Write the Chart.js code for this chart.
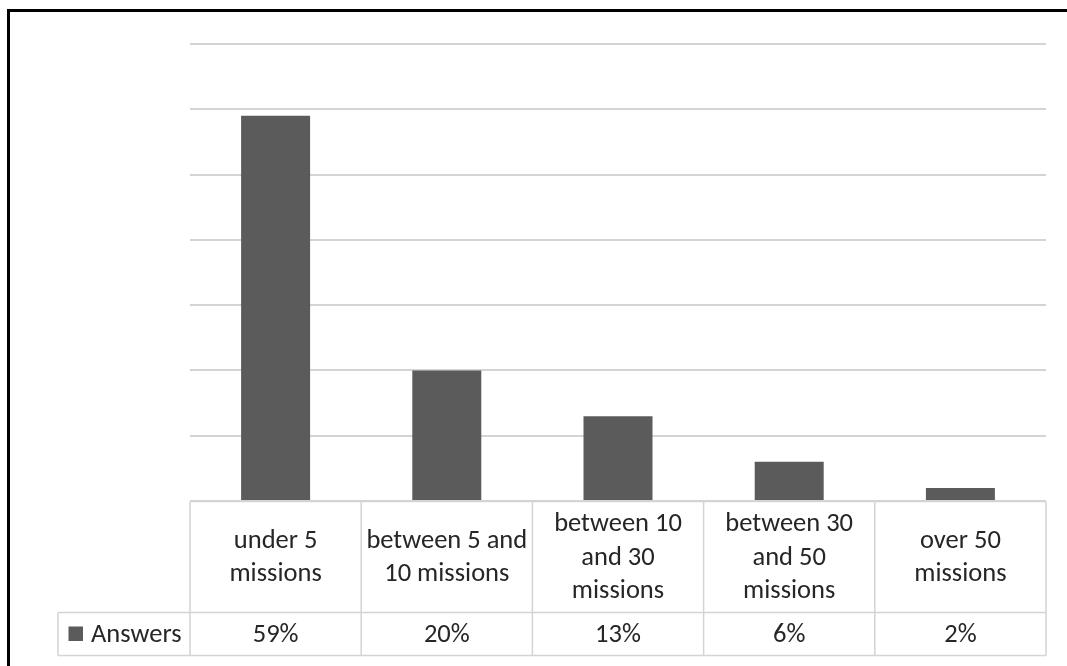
<!DOCTYPE html>
<html>
<head>
<meta charset="utf-8">
<script src="https://cdn.jsdelivr.net/npm/chart.js@4"></script>
<style>
  html, body { margin: 0; padding: 0; background: #fff; }
  #wrap { position: relative; width: 1067px; height: 666px; overflow: hidden; }
  #frame { position: absolute; left: 7px; top: 9px; right: -10px; bottom: -10px;
           border-left: 3px solid #000; border-top: 3px solid #000; }
  canvas { position: absolute; left: 0; top: 0; }
</style>
</head>
<body>
<div id="wrap">
  <div id="frame"></div>
  <canvas id="c" width="1067" height="666"></canvas>
</div>
<script>
// Mission-count buckets (each label split into its table lines)
const categories = [
  ["under 5", "missions"],
  ["between 5 and", "10 missions"],
  ["between 10", "and 30", "missions"],
  ["between 30", "and 50", "missions"],
  ["over 50", "missions"]
];
const seriesName = "Answers";
const answers = [59, 20, 13, 6, 2];   // percent of answers
const yMax = 70;
const yStep = 10;

const FONT = "Carlito, Calibri, Lato, sans-serif";
const TEXT = "#262626";
const LINE = "#d4d4d4";
const BAR = "#5b5b5b";

// Excel-style data table drawn under the plot, aligned to the category scale
const dataTable = {
  id: "dataTable",
  afterDraw(chart) {
    const ctx = chart.ctx;
    const xs = chart.scales.x;
    const area = chart.chartArea;
    const n = categories.length;
    const colW = (area.right - area.left) / n;
    const top = area.bottom + 0.5;
    const mid = top + 111;
    const bot = top + 154;
    const legendLeft = 58;

    ctx.save();
    ctx.strokeStyle = LINE;
    ctx.lineWidth = 1.5;
    ctx.beginPath();
    ctx.moveTo(area.left, top); ctx.lineTo(area.right, top);
    ctx.moveTo(legendLeft, mid); ctx.lineTo(area.right, mid);
    ctx.moveTo(legendLeft, bot); ctx.lineTo(area.right, bot);
    ctx.moveTo(legendLeft, mid); ctx.lineTo(legendLeft, bot);
    for (let i = 0; i <= n; i++) {
      const x = area.left + i * colW;
      ctx.moveTo(x, top); ctx.lineTo(x, bot);
    }
    ctx.stroke();

    ctx.fillStyle = TEXT;
    ctx.font = "26.5px " + FONT;
    ctx.textAlign = "center";
    ctx.textBaseline = "middle";
    const lh = 33.5;
    categories.forEach((lines, i) => {
      const cx = xs.getPixelForValue(i);
      const cy = (top + mid) / 2 + 1;
      const y0 = cy - (lines.length - 1) * lh / 2;
      lines.forEach((t, k) => ctx.fillText(t, cx, y0 + k * lh));
      ctx.fillText(answers[i] + "%", cx, (mid + bot) / 2 + 1);
    });

    // legend key in the series row
    const ky = (mid + bot) / 2;
    ctx.fillStyle = BAR;
    ctx.fillRect(68.5, ky - 7.5, 14.5, 14.5);
    ctx.fillStyle = TEXT;
    ctx.textAlign = "left";
    ctx.fillText(seriesName, 91, ky + 1);
    ctx.restore();
  }
};

new Chart(document.getElementById("c"), {
  type: "bar",
  data: {
    labels: categories,
    datasets: [{
      label: seriesName,
      data: answers,
      backgroundColor: BAR,
      borderWidth: 0,
      categoryPercentage: 1,
      barPercentage: 0.403
    }]
  },
  options: {
    responsive: false,
    animation: false,
    layout: { padding: { left: 190, right: 21, top: 44, bottom: 165 } },
    plugins: { legend: { display: false }, tooltip: { enabled: false } },
    scales: {
      x: { display: false },
      y: {
        min: 0, max: yMax,
        ticks: { display: false, stepSize: yStep },
        border: { display: false },
        grid: { color: LINE, lineWidth: 2, drawTicks: false },
        afterFit(scale) { scale.width = 0; }
      }
    }
  },
  plugins: [dataTable]
});
</script>
</body>
</html>
